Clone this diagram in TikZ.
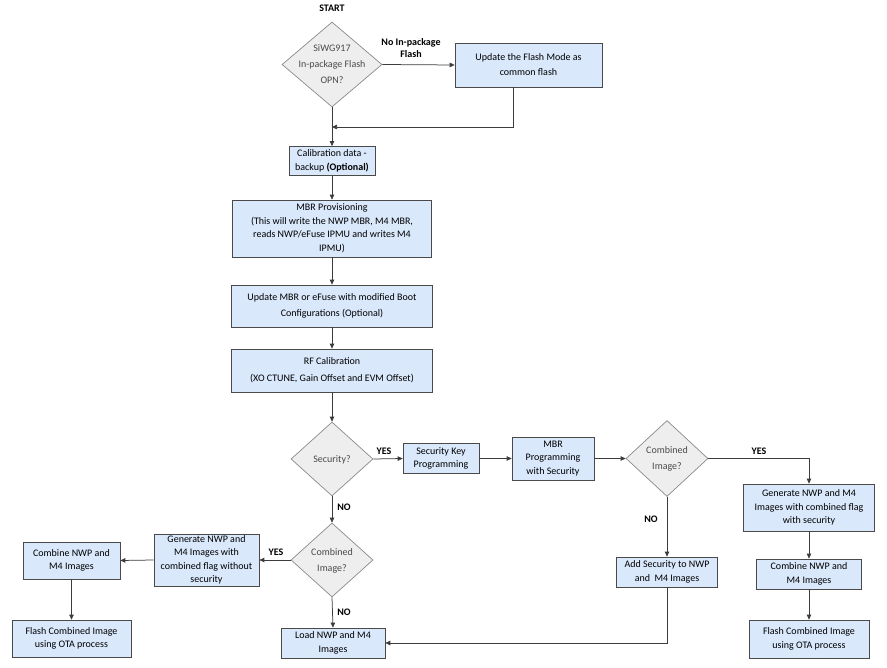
\documentclass[tikz,border=0pt]{standalone}
\usepackage{fontspec}
\setmainfont{Carlito}
\usetikzlibrary{shapes.geometric,arrows.meta}
\definecolor{boxfill}{HTML}{DAE8FC}
\definecolor{boxline}{HTML}{4A4A4A}
\definecolor{dfill}{HTML}{EEEEEE}
\definecolor{dline}{HTML}{8A8A8A}
\definecolor{dtextc}{HTML}{4A4A4A}
\definecolor{wire}{HTML}{3C3C3C}
\newcommand\dtext[1]{\raisebox{-2.5pt}[0pt][0pt]{\makebox[0pt]{\begin{tabular}{@{}c@{}}#1\end{tabular}}}}
\tikzset{
  stepbox/.style={rectangle, draw=boxline, fill=boxfill, line width=0.7pt, align=center,
    inner sep=1pt, font=\fontsize{10}{13.5}\selectfont, text=black},
  decision/.style={diamond, draw=dline, fill=dfill, line width=0.7pt, inner sep=0pt,
    font=\fontsize{10}{16}\selectfont, text=dtextc},
  lbl/.style={font=\fontsize{10}{12}\selectfont\bfseries, align=center, inner sep=0pt},
  arr/.style={draw=wire, line width=0.75pt, -{Triangle[length=5pt,width=4.5pt]}},
  ln/.style={draw=wire, line width=0.75pt},
}
\begin{document}
\begin{tikzpicture}[x=1pt,y=1pt]
\useasboundingbox (0,0) rectangle (887,-668);
% nodes
\node[lbl] (start) at (332,-8) {START};
\node[decision, minimum width=100pt, minimum height=85pt] (d1) at (332,-64.5) {\dtext{\renewcommand\arraystretch{1.35}SiWG917\\In-package Flash\\OPN?}};
\node[stepbox, minimum width=147pt, minimum height=44pt, font=\fontsize{10}{15}\selectfont] (upd) at (528.5,-65) {Update the Flash Mode as\\common flash};
\node[stepbox, minimum width=86pt, minimum height=29pt] (calib) at (332,-161) {Calibration data -\\backup \textbf{(Optional)}};
\node[stepbox, minimum width=199pt, minimum height=57pt] (mbr) at (332,-228.5) {MBR Provisioning\\(This will write the NWP MBR, M4 MBR,\\reads NWP/eFuse IPMU and writes M4\\IPMU)};
\node[stepbox, minimum width=201pt, minimum height=42pt, font=\fontsize{10}{16}\selectfont] (updmbr) at (332,-306) {Update MBR or eFuse with modified Boot\\Configurations (Optional)};
\node[stepbox, minimum width=201pt, minimum height=43pt, font=\fontsize{10}{17}\selectfont] (rf) at (332,-370.5) {RF Calibration\\(XO CTUNE, Gain Offset and EVM Offset)};
\node[decision, minimum width=82pt, minimum height=74pt] (dsec) at (332,-459) {\dtext{Security?}};
\node[stepbox, minimum width=76pt, minimum height=30pt] (seckey) at (441,-458.5) {Security Key\\Programming};
\node[stepbox, minimum width=82pt, minimum height=43pt] (mbrsec) at (553,-458.5) {MBR\\Programming\\with Security};
\node[decision, minimum width=82pt, minimum height=76pt] (dc1) at (667,-458.5) {\dtext{\renewcommand\arraystretch{1.35}Combined\\Image?}};
\node[stepbox, minimum width=131pt, minimum height=47pt] (gensec) at (809,-507.5) {Generate NWP and M4\\Images with combined flag\\with security};
\node[stepbox, minimum width=105pt, minimum height=30pt] (combR) at (809,-574) {Combine NWP and\\M4 Images};
\node[stepbox, minimum width=120pt, minimum height=38pt] (flashR) at (809,-639) {Flash Combined Image\\using OTA process};
\node[stepbox, minimum width=101pt, minimum height=30pt] (addsec) at (667,-572) {Add Security to NWP\\and\ \ M4 Images};
\node[decision, minimum width=82pt, minimum height=74pt] (dc2) at (332,-560) {\dtext{\renewcommand\arraystretch{1.35}Combined\\Image?}};
\node[stepbox, minimum width=104pt, minimum height=30pt] (load) at (333,-643) {Load NWP and M4\\Images};
\node[stepbox, minimum width=105pt, minimum height=52pt] (genns) at (206.5,-560) {Generate NWP and\\M4 Images with\\combined flag without\\security};
\node[stepbox, minimum width=97pt, minimum height=37pt] (combL) at (71.5,-560.5) {Combine NWP and\\M4 Images};
\node[stepbox, minimum width=119pt, minimum height=37pt] (flashL) at (71.5,-638.5) {Flash Combined Image\\using OTA process};
% labels
\node[lbl] (lnoflash) at (411,-48) {No In-package\\Flash};
\node[lbl] (lyes1) at (384,-451) {YES};
\node[lbl] (lyes2) at (759,-451) {YES};
\node[lbl] (lno1) at (651,-519) {NO};
\node[lbl] (lno2) at (344,-507) {NO};
\node[lbl] (lyes3) at (276,-552) {YES};
\node[lbl] (lno3) at (344,-612) {NO};
\coordinate (m1) at (332,-127);
% connectors
\draw[arr] (d1.east) -- (upd.west);
\draw[arr] ([xshift=-15.5pt]upd.south) |- (m1);
\draw[arr] (d1.south) -- (calib.north);
\draw[arr] (calib) -- (mbr);
\draw[arr] (mbr) -- (updmbr);
\draw[arr] (updmbr) -- (rf);
\draw[arr] (rf) -- (dsec.north);
\draw[arr] (dsec.east) -- (seckey.west);
\draw[arr] (seckey) -- (mbrsec);
\draw[arr] (mbrsec.east) -- (dc1.west);
\draw[arr] (dc1.east) -| (gensec.north);
\draw[arr] (dc1.south) -- (addsec.north);
\draw[arr] (addsec.south) |- (load.east);
\draw[arr] (gensec) -- (combR);
\draw[arr] (combR) -- (flashR);
\draw[arr] (dsec.south) -- (dc2.north);
\draw[arr] (dc2.west) -- (genns.east);
\draw[arr] (dc2.south) -- (load.north);
\draw[arr] (genns.west) -- (combL.east);
\draw[arr] (combL) -- (flashL);
\end{tikzpicture}
\end{document}
